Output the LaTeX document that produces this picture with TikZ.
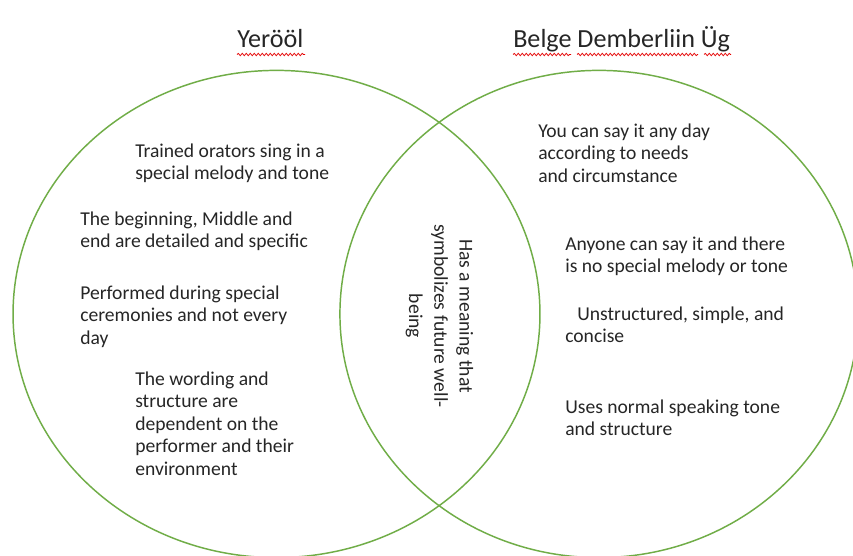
\documentclass[tikz,border=0pt]{standalone}
\usepackage{fontspec}
\setmainfont{Carlito}
\usetikzlibrary{decorations.pathmorphing}
\definecolor{vgreen}{HTML}{70AD47}
\definecolor{vtext}{HTML}{262626}
\begin{document}
\begin{tikzpicture}[x=0.75pt,y=-0.75pt,
  vtxt/.style={font=\fontsize{14.7}{16.9}\selectfont, text=vtext, align=left, anchor=north west, inner sep=0pt},
  vmid/.style={font=\fontsize{14.7}{19}\selectfont, text=vtext, align=center, rotate=-90, inner sep=0pt},
  vtitle/.style={font=\fontsize{19.6}{23}\selectfont, text=vtext, anchor=base west, inner sep=0pt},
  venn/.style={draw=vgreen, line width=1.1pt},
  spell/.style={draw=red!90!black, line width=0.55pt, decorate, decoration={snake, segment length=3pt, amplitude=0.9pt}}]
\useasboundingbox (0,0) rectangle (853,556);
\fill[white] (0,0) rectangle (853,556);
% circles
\draw[venn] (276.5,314) ellipse [x radius=197.6pt, y radius=182.7pt];
\draw[venn] (599,314) ellipse [x radius=194.3pt, y radius=182.7pt];
% titles
\node[vtitle] (t1) at (237,48) {Yerööl};
\node[vtitle] (t2) at (513,48) {Belge Demberliin Üg};
\draw[spell] (237,54.5) -- (305,54.5);
\draw[spell] (513,54.5) -- (571,54.5);
\draw[spell] (577,54.5) -- (698,54.5);
\draw[spell] (704,54.5) -- (731,54.5);
% left texts
\node[vtxt] (l1) at (135,141) {\strut Trained orators sing in a\\special melody and tone};
\node[vtxt] (l2) at (80,209.4) {\strut The beginning, Middle and\\end are detailed and specific};
\node[vtxt] (l3) at (80,283.4) {\strut Performed during special\\ceremonies and not every\\day};
\node[vtxt] (l4) at (135,369) {\strut The wording and\\structure are\\dependent on the\\performer and their\\environment};
% middle
\node[vmid] (m) at (439.5,316) {Has a meaning that\\symbolizes future well-\\being};
% right texts
\node[vtxt] (r1) at (538,121.4) {\strut You can say it any day\\according to needs\\and circumstance};
\node[vtxt] (r2) at (565,234.4) {\strut Anyone can say it and there\\is no special melody or tone};
\node[vtxt] (r3) at (565,304.4) {\strut\hspace*{9pt}Unstructured, simple, and\\concise};
\node[vtxt] (r4) at (565,397.4) {\strut Uses normal speaking tone\\and structure};
\end{tikzpicture}
\end{document}
